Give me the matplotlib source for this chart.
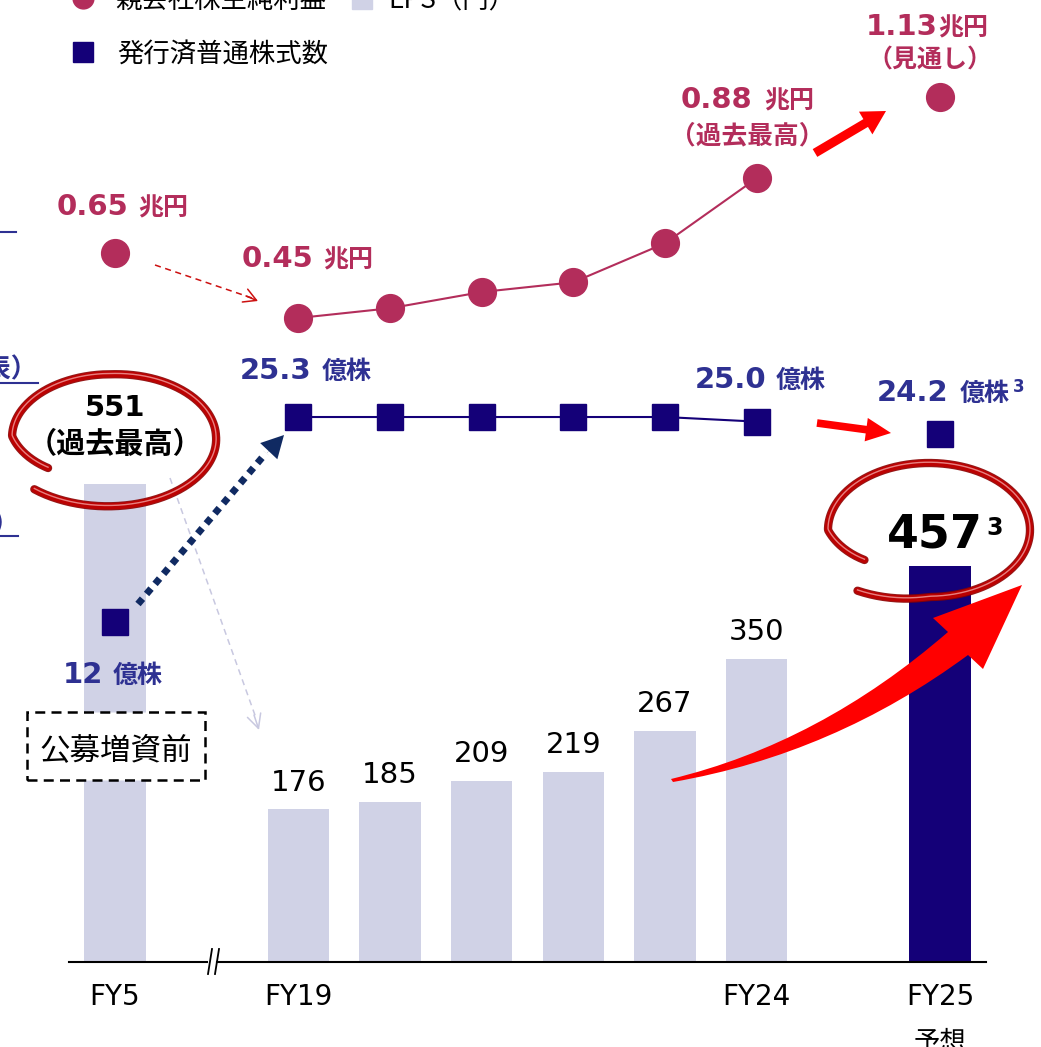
import numpy as np
import matplotlib
matplotlib.use('Agg')
import matplotlib.pyplot as plt
from matplotlib.lines import Line2D
from matplotlib.patches import FancyArrowPatch, Rectangle, PathPatch
from matplotlib.path import Path
import matplotlib.patheffects as pe

plt.rcParams['font.family'] = ['DejaVu Sans', 'Noto Sans CJK JP']
JP = ['Noto Sans CJK JP']

# data
years = ['FY5', 'FY19', 'FY20', 'FY21', 'FY22', 'FY23', 'FY24', 'FY25']
xpos = [0, 2, 3, 4, 5, 6, 7, 9]
eps = [551, 176, 185, 209, 219, 267, 350, 457]                 # 円
net_income = [0.65, 0.45, 0.48, 0.53, 0.56, 0.68, 0.88, 1.13]  # 兆円
shares = [12, 25.3, 25.3, 25.3, 25.3, 25.3, 25.0, 24.2]         # 億株
tick_pos = [0, 2, 7, 9]
tick_lab = ['FY5', 'FY19', 'FY24', 'FY25']

c_ni = '#B32D5B'
c_sh_txt = '#2E3192'
c_sh = '#140078'
c_bar = '#D0D2E6'

W, H = 1041, 1047
fig = plt.figure(figsize=(W / 100, H / 100), dpi=100)


def P(x, y):
    # pixel position (top-left origin) -> figure fraction
    return (x / W, 1 - y / H)


def ftext(x, y, s, **kw):
    fig.text(x / W, 1 - y / H, s, **kw)


def fline(xs, ys, **kw):
    fig.add_artist(Line2D(np.asarray(xs) / W, 1 - np.asarray(ys) / H,
                          transform=fig.transFigure, **kw))


xl = (-115 / 91.67, (W - 115) / 91.67)
ax = fig.add_axes([0, 0, 1, 1])
ax.set_xlim(*xl)
ax.set_ylim(-98.0, 1109.6)
ax.axis('off')
ax_ni = fig.add_axes([0, 0, 1, 1])
ax_ni.set_xlim(*xl)
ax_ni.set_ylim(-1.793, 1.4285)
ax_ni.axis('off')
ax_sh = fig.add_axes([0, 0, 1, 1])
ax_sh.set_xlim(*xl)
ax_sh.set_ylim(-15.61, 52.38)
ax_sh.axis('off')

# EPS bars
ax.bar(xpos, eps, width=0.67, color=[c_bar] * 7 + [c_sh], zorder=1)
for x, v in zip(xpos[1:7], eps[1:7]):
    ax.annotate(str(v), (x, v), xytext=(0, 13.5), textcoords='offset points',
                ha='center', va='baseline', fontsize=21)

# baseline with break
ax.plot([-0.5, 1.0], [0, 0], color='black', lw=1.5, clip_on=False)
ax.plot([1.11, 9.5], [0, 0], color='black', lw=1.5, clip_on=False)
fline([208, 212], [974, 949], color='black', lw=1.3)
fline([215, 219], [974, 949], color='black', lw=1.3)
for x, lab in zip(tick_pos, tick_lab):
    ax.annotate(lab, (x, 0), xytext=(0, -31), textcoords='offset points',
                ha='center', va='baseline', fontsize=20)
ax.annotate('予想', (9, 0), xytext=(0, -63), textcoords='offset points',
            ha='center', va='baseline', fontsize=19)

# net income
ax_ni.plot(xpos[1:7], net_income[1:7], color=c_ni, lw=1.5, marker='o', ms=20, zorder=3)
ax_ni.plot([xpos[0], xpos[-1]], [net_income[0], net_income[-1]], ls='none',
           marker='o', ms=20, color=c_ni, zorder=3)

# shares
ax_sh.plot(xpos[1:7], shares[1:7], color=c_sh, lw=1.5, marker='s', ms=19, zorder=3)
ax_sh.plot([xpos[0], xpos[-1]], [shares[0], shares[-1]], ls='none',
           marker='s', ms=19, color=c_sh, zorder=3)

# legend (top is cut off)
fig.add_artist(Line2D([83 / W], [1 + 2 / H], marker='o', ms=15, color=c_ni,
                      transform=fig.transFigure, ls='none'))
ftext(115, 8, '親会社株主純利益', fontsize=19, va='baseline')
fig.add_artist(Line2D([362 / W], [1 + 1 / H], marker='s', ms=14, color=c_bar,
                      transform=fig.transFigure, ls='none'))
ftext(388, 8, 'EPS（円）', fontsize=19, va='baseline', family=JP)
fig.add_artist(Line2D([83 / W], [1 - 52 / H], marker='s', ms=14, color=c_sh,
                      transform=fig.transFigure, ls='none'))
ftext(117, 62, '発行済普通株式数', fontsize=19, va='baseline')


def val_label(num, unit, xr, base, color, gap=10, sup=None):
    ftext(xr, base, num, ha='right', va='baseline', fontsize=21,
          fontweight='bold', color=color)
    ftext(xr + gap, base, unit, ha='left', va='baseline', fontsize=18,
          fontweight='bold', color=color)
    if sup:
        ftext(sup[0], sup[1], sup[2], ha='left', va='baseline', fontsize=12,
              fontweight='bold', color=color)


val_label(f'{net_income[0]:.2f}', '兆円', 128, 215, c_ni)
val_label(f'{net_income[1]:.2f}', '兆円', 313, 267, c_ni)
val_label(f'{net_income[6]:.2f}', '兆円', 752, 108, c_ni, gap=12)
ftext(747, 143, '（過去最高）', ha='center', va='baseline', fontsize=18.5,
      fontweight='bold', color=c_ni, family=JP)
val_label(f'{net_income[7]:.2f}', '兆円', 938, 35, c_ni, gap=0)
ftext(930, 67, '（見通し）', ha='center', va='baseline', fontsize=18,
      fontweight='bold', color=c_ni, family=JP)

val_label(f'{shares[1]:.1f}', '億株', 312, 379, c_sh_txt)
val_label(f'{shares[6]:.1f}', '億株', 766, 388, c_sh_txt)
val_label(f'{shares[7]:.1f}', '億株', 948, 401, c_sh_txt, gap=12,
          sup=(1013, 392, '3'))
val_label(f'{shares[0]:d}', '億株', 103, 683, c_sh_txt)

# highlighted EPS labels
ftext(115, 416, str(eps[0]), ha='center', va='baseline', fontsize=21, fontweight='bold')
ftext(115, 453, '（過去最高）', ha='center', va='baseline', fontsize=21,
      fontweight='bold', family=JP)
ftext(935, 547, str(eps[7]), ha='center', va='baseline', fontsize=33, fontweight='bold')
ftext(986, 535, '3', ha='left', va='baseline', fontsize=17, fontweight='bold')

# dashed box
fig.add_artist(Rectangle(P(27, 780), 178 / W, 68 / H, transform=fig.transFigure,
                         facecolor='white', edgecolor='black', lw=1.8,
                         ls=(0, (4, 2.5)), zorder=2))
ftext(116, 760, '公募増資前', ha='center', va='baseline', fontsize=22, zorder=3)

# cut-off notes on the left edge
ftext(38, 377, '発表）', ha='right', va='baseline', fontsize=19,
      fontweight='bold', color=c_sh_txt)
fline([0, 38], [383, 383], color=c_sh_txt, lw=1.5)
fline([0, 16], [232, 232], color=c_sh_txt, lw=1.5)
ftext(4, 530, ')', ha='right', va='baseline', fontsize=19,
      fontweight='bold', color=c_sh_txt)
fline([0, 18], [536, 536], color=c_sh_txt, lw=1.5)

# thin dashed arrows
fline([155, 252], [265, 298], color='#CC1010', lw=1.1, ls=(0, (4, 3)))
fig.add_artist(FancyArrowPatch(P(246, 296), P(258, 301), transform=fig.transFigure,
                               arrowstyle='->,head_length=9,head_width=5',
                               mutation_scale=1, color='#CC1010', lw=1.1,
                               shrinkA=0, shrinkB=0))
fline([170, 256], [478, 718], color='#C8C8E0', lw=1.1, ls=(0, (4, 3)))
fig.add_artist(FancyArrowPatch(P(254, 715), P(259, 730), transform=fig.transFigure,
                               arrowstyle='->,head_length=10,head_width=5',
                               mutation_scale=1, color='#C8C8E0', lw=1.1,
                               shrinkA=0, shrinkB=0))

# navy dotted arrow
fline([138, 266], [604, 453], color='#102A62', lw=5, ls=(0, (1, 0.9)))
fig.add_artist(FancyArrowPatch(P(267, 453), P(284, 435), transform=fig.transFigure,
                               arrowstyle='simple,head_width=17,head_length=16,tail_width=0.1',
                               mutation_scale=1, color='#102A62', lw=0,
                               shrinkA=0, shrinkB=0))

# red straight arrows
fig.add_artist(FancyArrowPatch(P(815, 153), P(886, 111), transform=fig.transFigure,
                               arrowstyle='simple,head_width=19,head_length=17,tail_width=6.5',
                               mutation_scale=1, color='#FF0000', lw=0,
                               shrinkA=0, shrinkB=0))
fig.add_artist(FancyArrowPatch(P(817, 423), P(891, 433), transform=fig.transFigure,
                               arrowstyle='simple,head_width=17,head_length=18,tail_width=5.5',
                               mutation_scale=1, color='#FF0000', lw=0,
                               shrinkA=0, shrinkB=0))

# big curved red arrow
pts = [(671, 779), (820, 743), (948, 632), (933, 618), (1022, 585),
       (983, 669), (968, 655), (834, 754), (673, 782), (671, 779)]
codes = [Path.MOVETO, Path.CURVE3, Path.CURVE3, Path.LINETO, Path.LINETO,
         Path.LINETO, Path.LINETO, Path.CURVE3, Path.CURVE3, Path.CLOSEPOLY]
fig.add_artist(PathPatch(Path([P(*p) for p in pts], codes), transform=fig.transFigure,
                         facecolor='#FF0000', edgecolor='none', zorder=4))


# hand-drawn loops
def loop(cx, cy, a, b, t_deg, s_k):
    t = np.radians(np.linspace(t_deg[0], t_deg[-1], 300))
    s = np.interp(-np.degrees(t), [-v for v in t_deg], s_k)
    xs = cx + a * s * np.cos(t)
    ys = cy + b * s * np.sin(t)
    fline(xs, ys, color='#C00000', lw=4.5, alpha=0.92, solid_capstyle='round',
          path_effects=[pe.Stroke(linewidth=6, foreground='#8A0000', alpha=0.9), pe.Normal()])
    fline(xs, ys - 0.8, color='#F3A0A0', lw=1.0, alpha=0.8)


loop(113, 436, 103, 65, [133, 90, 0, -90, -180, -218], [1.12, 1.08, 1.0, 0.95, 0.98, 0.8])
loop(929, 530, 101, 67, [128, 90, 0, -90, -180, -215], [1.15, 1.0, 1.0, 1.0, 1.0, 0.78])

fig.savefig('out.png', dpi=100)
